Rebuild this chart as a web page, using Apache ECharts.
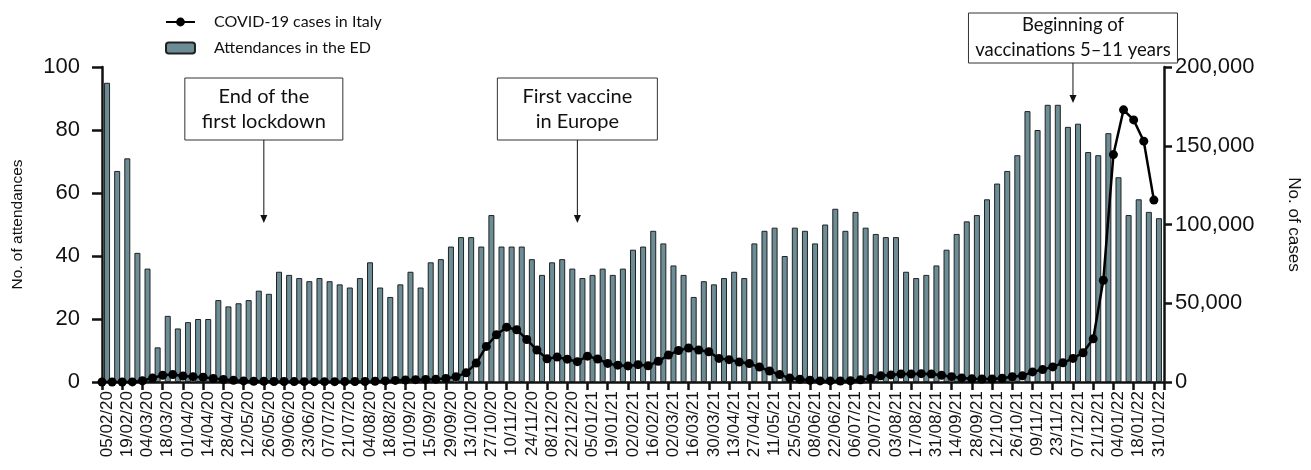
<!DOCTYPE html>
<html>
<head>
<meta charset="utf-8">
<script src="https://cdn.jsdelivr.net/npm/echarts@6/dist/echarts.min.js"></script>
<style>
  html, body { margin: 0; padding: 0; background: #fff; }
  #chart { width: 1311px; height: 470px; }
</style>
</head>
<body>
<div id="chart"></div>
<script>
// Weekly periods (every other one is labelled on the axis)
const weeks = [
  '05/02/20','12/02/20','19/02/20','26/02/20','04/03/20','11/03/20','18/03/20','25/03/20',
  '01/04/20','08/04/20','14/04/20','21/04/20','28/04/20','05/05/20','12/05/20','19/05/20',
  '26/05/20','02/06/20','09/06/20','16/06/20','23/06/20','30/06/20','07/07/20','14/07/20',
  '21/07/20','28/07/20','04/08/20','11/08/20','18/08/20','25/08/20','01/09/20','08/09/20',
  '15/09/20','22/09/20','29/09/20','06/10/20','13/10/20','20/10/20','27/10/20','03/11/20',
  '10/11/20','17/11/20','24/11/20','01/12/20','08/12/20','15/12/20','22/12/20','29/12/20',
  '05/01/21','12/01/21','19/01/21','26/01/21','02/02/21','09/02/21','16/02/21','23/02/21',
  '02/03/21','09/03/21','16/03/21','23/03/21','30/03/21','06/04/21','13/04/21','20/04/21',
  '27/04/21','04/05/21','11/05/21','18/05/21','25/05/21','01/06/21','08/06/21','15/06/21',
  '22/06/21','29/06/21','06/07/21','13/07/21','20/07/21','27/07/21','03/08/21','10/08/21',
  '17/08/21','24/08/21','31/08/21','07/09/21','14/09/21','21/09/21','28/09/21','05/10/21',
  '12/10/21','19/10/21','26/10/21','02/11/21','09/11/21','16/11/21','23/11/21','30/11/21',
  '07/12/21','14/12/21','21/12/21','28/12/21','04/01/22','11/01/22','18/01/22','25/01/22',
  '31/01/22'
];

// Paediatric ED attendances per week
const attendances = [
  95, 67, 71, 41, 36, 11, 21, 17, 19, 20, 20, 26, 24, 25, 26, 29,
  28, 35, 34, 33, 32, 33, 32, 31, 30, 33, 38, 30, 27, 31, 35, 30,
  38, 39, 43, 46, 46, 43, 53, 43, 43, 43, 39, 34, 38, 39, 36, 33,
  34, 36, 34, 36, 42, 43, 48, 44, 37, 34, 27, 32, 31, 33, 35, 33,
  44, 48, 49, 40, 49, 48, 44, 50, 55, 48, 54, 49, 47, 46, 46, 35,
  33, 34, 37, 42, 47, 51, 53, 58, 63, 67, 72, 86, 80, 88, 88, 81,
  82, 73, 72, 79, 65, 53, 58, 54, 52
];

// COVID-19 cases in Italy (daily average for the week)
const cases = [
  0, 0, 0, 50, 800, 2500, 4300, 4700, 3800, 3400, 3000, 2200, 1600, 1100, 700, 500,
  400, 300, 300, 250, 220, 200, 200, 220, 250, 300, 350, 450, 700, 1000, 1300, 1500,
  1600, 1700, 2300, 3400, 5800, 12000, 22600, 30000, 34800, 33200, 27000, 20300, 14700, 15800,
  14500, 12900, 16400, 14600, 11800, 10700, 10200, 11000, 10300, 13200, 17100, 20000, 21600, 20300,
  19200, 15000, 14200, 12700, 11700, 9500, 7000, 4700, 2500, 1700, 1100, 700, 700, 600,
  800, 1400, 2300, 4000, 4500, 5100, 5100, 5300, 5100, 4300, 3400, 2600, 2000, 1900,
  1900, 2400, 3300, 3900, 6400, 7900, 9600, 12200, 15000, 18600, 27400, 64600, 144400, 172800,
  166400, 152900, 115500
];

// Events marked on the time line (week index where the arrow points)
const events = [
  { text: 'End of the\nfirst lockdown', week: 16 },
  { text: 'First vaccine\nin Europe', week: 47 },
  { text: 'Beginning of\nvaccinations 5\u201311 years', week: 96 }
];

// Box geometry for each event callout
const calloutLayout = [
  { top: 78, width: 158, height: 62, tipY: 223, fontSize: 20 },
  { top: 78, width: 160, height: 62, tipY: 223, fontSize: 20 },
  { top: 13, width: 209, height: 50, tipY: 103, fontSize: 18.5 }
];

const TICK_FONT = 'Liberation Sans';
const TEXT_FONT = 'Lato';
const INK = '#111';

const chart = echarts.init(document.getElementById('chart'), null, { renderer: 'canvas' });

const axisLine = { show: true, lineStyle: { color: INK, width: 2.5 } };
const axisTick = { show: true, inside: false, lineStyle: { color: INK, width: 2.5 } };

chart.setOption({
  animation: false,
  backgroundColor: '#fff',
  grid: { left: 102, right: 147, top: 67, bottom: 88, containLabel: false },
  legend: {
    orient: 'vertical',
    left: 160,
    top: 9,
    itemGap: 10,
    itemWidth: 29,
    itemHeight: 11,
    textStyle: { fontFamily: TEXT_FONT, fontSize: 16, color: INK, padding: [0, 0, 0, 14] },
    data: [
      { name: 'COVID-19 cases in Italy' },
      { name: 'Attendances in the ED' }
    ]
  },
  xAxis: [
    {
      type: 'category',
      data: weeks,
      boundaryGap: true,
      axisLine: axisLine,
      axisTick: Object.assign({ interval: 1, length: 8, alignWithLabel: false }, axisTick),
      axisLabel: {
        interval: 1,
        rotate: 90,
        margin: 9,
        fontFamily: TICK_FONT,
        fontSize: 17,
        color: INK
      },
      splitLine: { show: false }
    },
    {
      // week-index scale used by the case curve (points sit on week boundaries)
      type: 'value',
      min: 0,
      max: weeks.length,
      show: false
    }
  ],
  yAxis: [
    {
      type: 'value',
      position: 'left',
      min: 0,
      max: 100,
      interval: 20,
      offset: 4,
      axisLine: axisLine,
      axisTick: Object.assign({ length: 10 }, axisTick),
      axisLabel: { fontFamily: TICK_FONT, fontSize: 22, color: INK, margin: 18 },
      splitLine: { show: false },
      name: 'No. of attendances',
      nameLocation: 'middle',
      nameGap: 72,
      nameTextStyle: { fontFamily: TICK_FONT, fontSize: 15.5, color: INK }
    },
    {
      type: 'value',
      position: 'right',
      min: 0,
      max: 200000,
      interval: 50000,
      offset: 0,
      axisLine: axisLine,
      axisTick: Object.assign({ length: 8 }, axisTick),
      axisLabel: {
        fontFamily: TICK_FONT,
        fontSize: 22,
        color: INK,
        margin: 11,
        formatter: v => v.toLocaleString('en-US')
      },
      splitLine: { show: false },
      name: 'No. of cases',
      nameLocation: 'middle',
      nameRotate: -90,
      nameGap: 121,
      nameTextStyle: { fontFamily: TICK_FONT, fontSize: 17, color: INK }
    }
  ],
  series: [
    {
      name: 'Attendances in the ED',
      type: 'bar',
      xAxisIndex: 0,
      yAxisIndex: 0,
      data: attendances,
      barWidth: 6,
      itemStyle: { color: '#6c8c96', borderColor: '#222', borderWidth: 1 },
      z: 2
    },
    {
      name: 'COVID-19 cases in Italy',
      type: 'line',
      xAxisIndex: 1,
      yAxisIndex: 1,
      data: cases.map((v, i) => [i, v]),
      symbol: 'circle',
      symbolSize: 9,
      showAllSymbol: true,
      lineStyle: { color: '#000', width: 2.5 },
      itemStyle: { color: '#000' },
      z: 5
    }
  ]
});

// Callout boxes with arrows, anchored on the week scale
function drawCallouts() {
  const elements = [];
  events.forEach((ev, k) => {
    const lay = calloutLayout[k];
    const x = chart.convertToPixel({ xAxisIndex: 1 }, ev.week);
    const left = x - lay.width / 2;
    const bottom = lay.top + lay.height;
    elements.push({
      type: 'rect',
      shape: { x: left, y: lay.top, width: lay.width, height: lay.height },
      style: { fill: '#fff', stroke: '#333', lineWidth: 1 },
      z: 10
    });
    elements.push({
      type: 'text',
      x: x,
      y: lay.top + lay.height / 2,
      style: {
        text: ev.text,
        align: 'center',
        verticalAlign: 'middle',
        fontFamily: TEXT_FONT,
        fontSize: lay.fontSize,
        lineHeight: 25,
        fill: INK
      },
      z: 11
    });
    elements.push({
      type: 'line',
      shape: { x1: x, y1: bottom, x2: x, y2: lay.tipY - 6 },
      style: { stroke: INK, lineWidth: 1 },
      z: 10
    });
    elements.push({
      type: 'polygon',
      shape: { points: [[x - 3.5, lay.tipY - 8], [x + 3.5, lay.tipY - 8], [x, lay.tipY]] },
      style: { fill: INK },
      z: 10
    });
  });
  chart.setOption({ graphic: elements });
}
drawCallouts();
</script>
</body>
</html>
